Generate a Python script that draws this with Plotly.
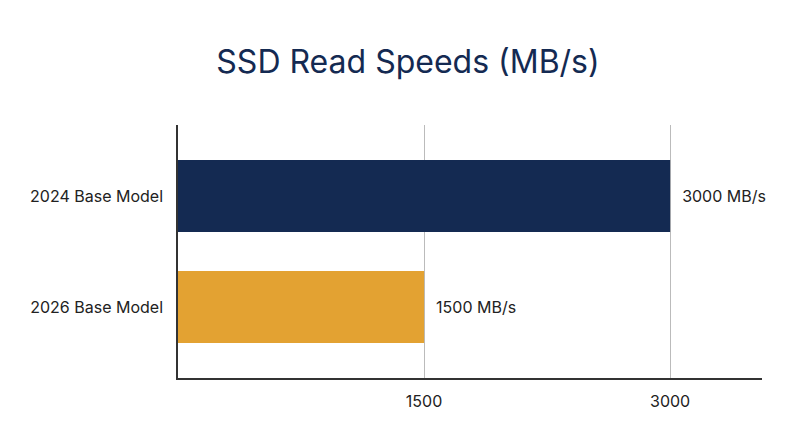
import plotly.graph_objects as go

categories = ["2024 Base Model", "2026 Base Model"]
speeds = [3000, 1500]
labels = ["  3000 MB/s", "  1500 MB/s"]
colors = ["#142a52", "#e3a232"]
tick_vals = [1500, 3000]

fig = go.Figure(go.Bar(
    y=categories, x=speeds, orientation="h",
    marker=dict(color=colors, line=dict(width=0)),
    text=labels, textposition="outside",
    textfont=dict(size=16, color="#222222"),
    cliponaxis=False, width=0.65,
))
fig.update_layout(
    width=800, height=447,
    margin=dict(l=170, r=46, t=117, b=77),
    paper_bgcolor="white", plot_bgcolor="white",
    font=dict(family="Inter, Roboto, sans-serif", color="#222222"),
    title=dict(text="SSD Read Speeds (MB/s)", x=0.5, xanchor="center", y=0.879, yanchor="middle",
               font=dict(size=32, color="#142a52")),
    showlegend=False,
)
fig.update_xaxes(range=[0, 3560], tickvals=tick_vals, showgrid=True, gridcolor="#bbbbbb", gridwidth=1,
                 showline=True, linecolor="#333333", linewidth=1.5, zeroline=False,
                 tickfont=dict(size=16), ticks="", ticklabelstandoff=8)
fig.update_yaxes(range=[1.64, -0.64], showline=True, linecolor="#333333", linewidth=1.5,
                 tickfont=dict(size=16), ticks="", ticklabelstandoff=10, showgrid=False)
fig.write_html("out.html")
